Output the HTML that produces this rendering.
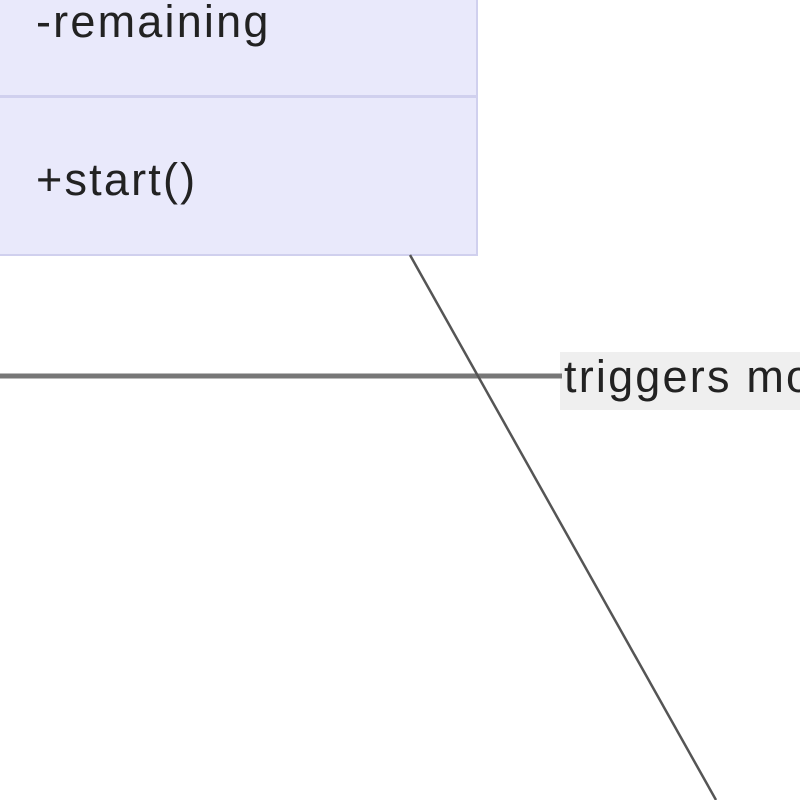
<!DOCTYPE html>
<html><head><style>
html,body{margin:0;padding:0;background:#fff;width:800px;height:800px;overflow:hidden;position:relative;font-family:"Liberation Sans",sans-serif}
.box{position:absolute;left:-10px;top:-10px;width:484px;height:262px;background:#e9e9fb;border:2px solid #d0d0ee}
.div{position:absolute;left:0;top:95px;width:476px;height:3px;background:#d0d0ee}
.t{position:absolute;color:#222;font-size:45px;white-space:nowrap;letter-spacing:2.2px}
.lbl{position:absolute;left:560px;top:352px;width:260px;height:58px;background:#efefef}
</style></head><body>
<div class="box"></div>
<div class="div"></div>
<div class="t" style="left:36px;top:-4px">-remaining</div>
<div class="t" style="left:36px;top:154px">+start()</div>
<div class="lbl"></div>
<svg width="800" height="800" style="position:absolute;left:0;top:0">
<line x1="0" y1="376" x2="562" y2="376" stroke="#777" stroke-width="5"/>
<line x1="410" y1="255" x2="716" y2="800" stroke="#555" stroke-width="2.5"/>
</svg>
<div class="t" style="left:564px;top:351px">triggers mo</div>
</body></html>
